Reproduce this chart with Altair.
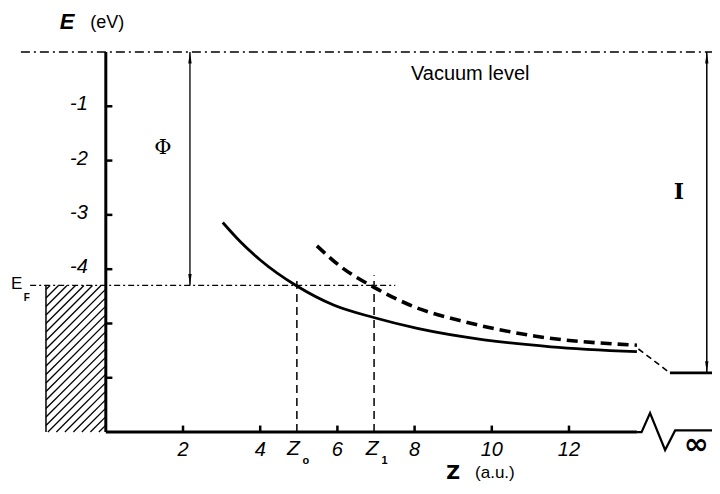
import altair as alt
import pandas as pd
import numpy as np

# ---------------- data ----------------
solid_z = [3.03, 3.48, 4.0, 4.95, 5.9, 6.94, 8.07, 9.8, 11.53, 13.76]
solid_E = [-3.14, -3.49, -3.83, -4.31, -4.66, -4.89, -5.09, -5.30, -5.43, -5.52]
dashed_z = [5.47, 6.08, 6.94, 7.98, 9.37, 11.1, 13.76]
dashed_E = [-3.57, -3.95, -4.33, -4.69, -4.98, -5.23, -5.40]
link_z = [13.8, 14.615]
link_E = [-5.47, -5.91]
y_ticks = [-1, -2, -3, -4, -5, -6]
y_tick_labels = ["-1", "-2", "-3", "-4", "", ""]
x_ticks = [2, 4, 6, 8, 10, 12]
x_tick_labels = ["2", "4", "6", "8", "10", "12"]
E_vac = 0.0
E_F = -4.3
E_I = -5.91
E_bottom = -7.0
Z0 = 4.95
Z1 = 6.95
Z_phi = 2.18
Z_I = 15.57
z_axis_end = 13.76
break_z = [13.76, 13.88, 14.1, 14.49, 14.75, 15.705]
break_E = [-7.0, -7.0, -6.65, -7.33, -6.97, -6.97]
metal_z = [-1.55, 0.0]

# ---------------- layout ----------------
W, H = 704, 478
XD = [-2.534, 15.705]
YD = [-7.993, 0.81]
xs = alt.Scale(domain=XD, nice=False, zero=False)
ys = alt.Scale(domain=YD, nice=False, zero=False)


def X(f):
    return alt.X(f, type="quantitative", scale=xs, axis=None)


def Y(f):
    return alt.Y(f, type="quantitative", scale=ys, axis=None)


def hrule(z1, z2, e, **kw):
    df = pd.DataFrame({"z": [z1], "z2": [z2], "e": [e]})
    return alt.Chart(df).mark_rule(color="black", **kw).encode(x=X("z"), x2=alt.X2("z2"), y=Y("e"))


def vrule(z, e1, e2, **kw):
    df = pd.DataFrame({"z": [z], "e": [e1], "e2": [e2]})
    return alt.Chart(df).mark_rule(color="black", **kw).encode(x=X("z"), y=Y("e"), y2=alt.Y2("e2"))


layers = []


# hatched metal region (hatch drawn in pixel space from the region bounds)
def px_x(z):
    return (z - XD[0]) / (XD[1] - XD[0]) * W


def px_y(e):
    return (YD[1] - e) / (YD[1] - YD[0]) * H


def z_of(px):
    return XD[0] + px / W * (XD[1] - XD[0])


def e_of(py):
    return YD[1] - py / H * (YD[1] - YD[0])


x0, x1 = px_x(metal_z[0]), px_x(metal_z[1])
y0, y1 = px_y(E_F), px_y(E_bottom)
segs = []
for c in np.arange(x0 + y0 + 4, x1 + y1, 8.5):
    xa = max(x0, c - y1)
    xb = min(x1, c - y0)
    if xb > xa:
        segs.append({"z": z_of(xa), "e": e_of(c - xa), "z2": z_of(xb), "e2": e_of(c - xb)})
hatch = alt.Chart(pd.DataFrame(segs)).mark_rule(color="black", strokeWidth=1.3).encode(
    x=X("z"), y=Y("e"), x2=alt.X2("z2"), y2=alt.Y2("e2"))
layers.append(hatch)
layers.append(vrule(metal_z[0], E_F, E_bottom, strokeWidth=1.5))

# vacuum level and Fermi level
layers.append(hrule(-2.2, XD[1], E_vac, strokeWidth=1.3, strokeDash=[9, 4, 2, 4]))
layers.append(hrule(-1.96, 7.5, E_F, strokeWidth=1.2, strokeDash=[6, 3, 2, 3]))

# Z0, Z1 dashed verticals
layers.append(vrule(Z0, E_bottom, E_F + 0.17, strokeWidth=1.5, strokeDash=[8, 5]))
layers.append(vrule(Z1, E_bottom, E_F + 0.19, strokeWidth=1.5, strokeDash=[8, 5]))

# axes
layers.append(vrule(0, E_vac, E_bottom, strokeWidth=3))
layers.append(hrule(0, z_axis_end, E_bottom, strokeWidth=3))
brk = alt.Chart(pd.DataFrame({"z": break_z, "e": break_E, "i": range(len(break_z))})).mark_line(
    color="black", strokeWidth=2.2).encode(x=X("z"), y=Y("e"), order="i:O")
layers.append(brk)

# ticks
ytk = pd.DataFrame({"e": y_ticks, "z": [0] * len(y_ticks), "z2": [0.17] * len(y_ticks), "lab": y_tick_labels})
layers.append(alt.Chart(ytk).mark_rule(color="black", strokeWidth=2.5).encode(x=X("z"), x2=alt.X2("z2"), y=Y("e")))
layers.append(alt.Chart(ytk).mark_text(align="right", baseline="middle", font="Liberation Sans",
                                       fontStyle="italic", fontSize=20, dx=-18, dy=-2, color="black").encode(
    x=X("z"), y=Y("e"), text="lab:N"))
xtk = pd.DataFrame({"z": x_ticks, "e": [E_bottom] * len(x_ticks), "e2": [E_bottom + 0.12] * len(x_ticks),
                    "lab": x_tick_labels})
layers.append(alt.Chart(xtk).mark_rule(color="black", strokeWidth=2.5).encode(x=X("z"), y=Y("e"), y2=alt.Y2("e2")))
layers.append(alt.Chart(xtk).mark_text(align="center", baseline="middle", font="Liberation Sans",
                                       fontStyle="italic", fontSize=20, dy=18, color="black").encode(
    x=X("z"), y=Y("e"), text="lab:N"))

# curves
solid = alt.Chart(pd.DataFrame({"z": solid_z, "e": solid_E})).mark_line(
    color="black", strokeWidth=2.8, interpolate="monotone").encode(x=X("z"), y=Y("e"))
dashed = alt.Chart(pd.DataFrame({"z": dashed_z, "e": dashed_E})).mark_line(
    color="black", strokeWidth=3.6, strokeDash=[11, 6], interpolate="monotone").encode(x=X("z"), y=Y("e"))
link = alt.Chart(pd.DataFrame({"z": link_z, "e": link_E})).mark_line(
    color="black", strokeWidth=1.6, strokeDash=[6, 4]).encode(x=X("z"), y=Y("e"))
layers += [solid, dashed, link]

# ionisation level line
layers.append(hrule(14.615, XD[1], E_I, strokeWidth=2.6))

# arrows
layers.append(vrule(Z_phi, E_vac, E_F, strokeWidth=1.3))
layers.append(vrule(Z_I, E_vac, E_I, strokeWidth=1.5))
up = "M0,0L-0.32,2.2L0.32,2.2Z"
down = "M0,0L-0.32,-2.2L0.32,-2.2Z"
heads = pd.DataFrame({"z": [Z_phi, Z_I], "e": [E_vac, E_vac]})
layers.append(alt.Chart(heads).mark_point(shape=up, filled=True, size=110, color="black", opacity=1).encode(
    x=X("z"), y=Y("e")))
heads2 = pd.DataFrame({"z": [Z_phi, Z_I], "e": [E_F, E_I]})
layers.append(alt.Chart(heads2).mark_point(shape=down, filled=True, size=110, color="black", opacity=1).encode(
    x=X("z"), y=Y("e")))


# texts
def txt(items, **kw):
    df = pd.DataFrame(items, columns=["z", "e", "t"])
    base = dict(color="black", align="center", baseline="middle")
    base.update(kw)
    return alt.Chart(df).mark_text(**base).encode(x=X("z"), y=Y("e"), text="t:N")


layers.append(txt([(-1.0, 0.55, "E")], font="Liberation Sans", fontSize=22, fontStyle="italic", fontWeight="bold"))
layers.append(txt([(0.04, 0.54, "(eV)")], font="Liberation Sans", fontSize=18))
layers.append(txt([(9.44, -0.40, "Vacuum level")], font="Liberation Sans", fontSize=20))
layers.append(txt([(1.48, -1.77, "Φ")], font="DejaVu Serif", fontSize=21))
layers.append(txt([(14.85, -2.58, "I")], font="DejaVu Serif", fontSize=22, fontWeight="bold"))
layers.append(txt([(-2.31, -4.27, "E")], font="Liberation Sans", fontSize=17))
layers.append(txt([(-2.05, -4.53, "F")], font="Liberation Sans", fontSize=10, fontWeight="bold"))
layers.append(txt([(15.3, -7.24, "∞")], font="DejaVu Sans", fontSize=30, fontWeight="bold"))
layers.append(txt([(4.86, -7.32, "Z"), (6.9, -7.32, "Z")], font="Liberation Sans", fontSize=21,
                  fontStyle="italic"))
layers.append(txt([(5.18, -7.54, "o"), (7.22, -7.54, "1")], font="Liberation Sans", fontSize=11,
                  fontWeight="bold"))
layers.append(txt([(9.0, -7.76, "Z")], font="DejaVu Sans", fontSize=19, fontWeight="bold"))
layers.append(txt([(10.08, -7.76, "(a.u.)")], font="Liberation Sans", fontSize=17))

chart = alt.layer(*layers).properties(
    width=W, height=H, autosize=alt.AutoSizeParams(type="none"), padding=0
).configure_view(stroke=None)

chart.save("out.html", embed_options={"renderer": "svg", "actions": False})
